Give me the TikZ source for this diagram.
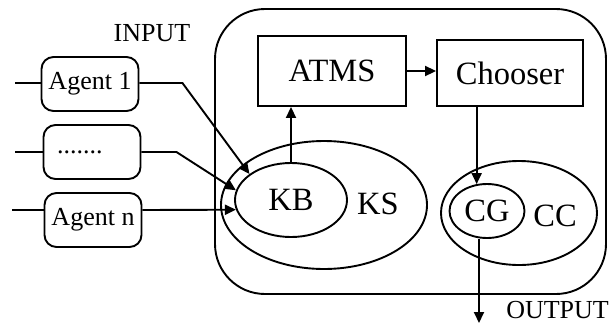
\documentclass[tikz,border=0pt]{standalone}
\usepackage{fontspec}
\setmainfont{Liberation Serif}
\usepackage{tikz}
\usetikzlibrary{positioning, arrows.meta, shapes.geometric, calc}

\newcommand{\smallfnt}{\fontsize{26}{28}\selectfont}
\newcommand{\bigfnt}{\fontsize{32.5}{35}\selectfont}

\begin{document}
\begin{tikzpicture}[
    x=1pt, y=-1pt,
    line width=1.9pt,
    arr/.style={-{Triangle[length=11pt, width=10pt]}},
    agent/.style={draw, rounded corners=12pt, minimum width=97pt, minimum height=54pt, font=\smallfnt, inner sep=0pt},
    blk/.style={draw, rectangle, font=\bigfnt, inner sep=0pt},
    set/.style={draw, ellipse, inner sep=0pt, font=\bigfnt}
]
\useasboundingbox (0,0) rectangle (613,327);

% === System ===
\draw[rounded corners=50pt] (215,9) rectangle (606,294);

\node[blk, minimum width=148pt, minimum height=70pt] (atms) at (332,71) {ATMS};
\node[blk, minimum width=146pt, minimum height=66pt] (choose) at (510,73) {Chooser};

% Knowledge side
\node[set, minimum width=206pt, minimum height=128pt] (ks) at (324,205) {};
\node[set, minimum width=112pt, minimum height=74pt] (kb) at (291,200) {KB};
\node[font=\bigfnt] (kslbl) at (378,204) {KS};

% Choice side
\node[set, minimum width=156pt, minimum height=104pt] (cc) at (519,213) {};
\node[set, minimum width=75pt, minimum height=54pt] (cg) at (487,211) {CG};
\node[font=\bigfnt] (cclbl) at (555,216) {CC};

\draw[arr] (kb.north) -- (kb.north |- atms.south);
\draw[arr] (atms.east) -- (atms.east -| choose.west);
\draw[arr] (cg.111 |- choose.south) -- (cg.111);

% Output
\coordinate (out) at (479,323);
\draw[arr] (cg.south -| out) -- (out);
\node[font=\smallfnt, anchor=west] (outlbl) at (502,310) {OUTPUT};

% === Agents ===
\node[font=\smallfnt] (inlbl) at (152,33) {INPUT};

\node[agent] (a1) at (90,84) {Agent 1};
\node[agent, text width=70pt, align=left] (adots) at (92,152) {.......};
\node[agent] (an) at (93,220) {Agent n};

\coordinate (in1) at (15,83);
\coordinate (in2) at (15,152);
\coordinate (in3) at (12,210);
\draw (in1) -- (in1 -| a1.west);
\draw (in2) -- (in2 -| adots.west);
\draw (in3) -- (in3 -| an.west);

\draw[arr] (in1 -| a1.east) -- ++(43,0) -- (kb.148);
\draw[arr] (in2 -| adots.east) -- ++(35,0) -- (kb.170);
\draw[arr] (in3 -| an.east) -- (kb.190);

\end{tikzpicture}
\end{document}
